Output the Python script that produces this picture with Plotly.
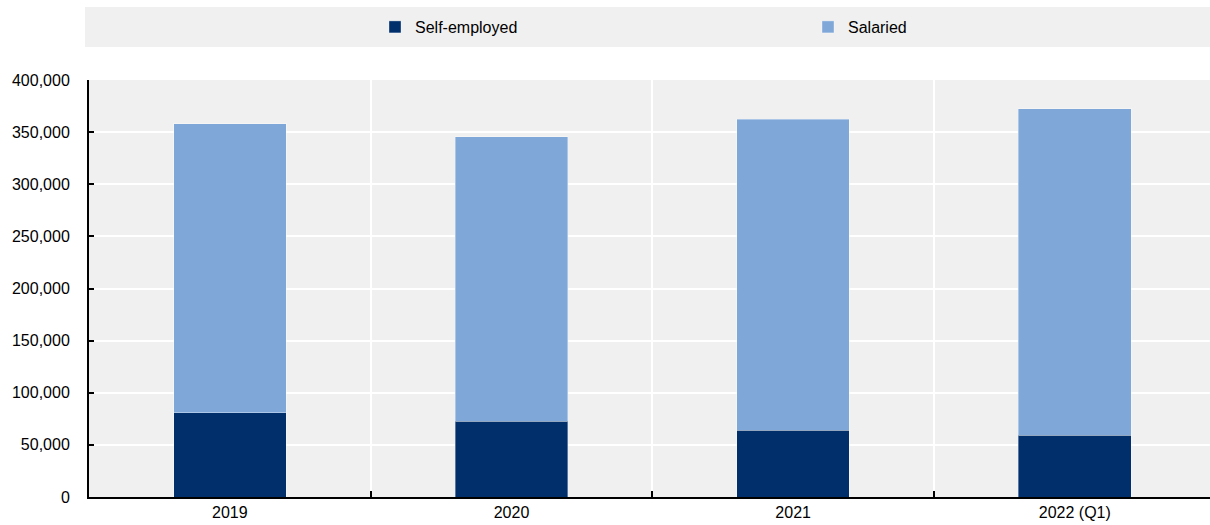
import plotly.graph_objects as go

categories = ["2019", "2020", "2021", "2022 (Q1)"]
self_employed = [80900, 72900, 64200, 59400]
salaried = [277100, 272700, 298000, 313000]
y_ticks = [0, 50000, 100000, 150000, 200000, 250000, 300000, 350000, 400000]
y_tick_labels = ["0", "50,000", "100,000", "150,000", "200,000", "250,000", "300,000", "350,000", "400,000"]

FONT = "Liberation Sans, Arial, sans-serif"
BG = "#f0f0f0"

fig = go.Figure()
fig.add_trace(go.Bar(x=categories, y=self_employed, name="Self-employed",
                     marker=dict(color="#002F6C", line=dict(color="rgba(255,255,255,0.35)", width=1)),
                     width=0.4))
fig.add_trace(go.Bar(x=categories, y=salaried, name="Salaried",
                     marker=dict(color="#7FA8D9", line=dict(color="rgba(255,255,255,0.35)", width=1)),
                     width=0.4))

W, H = 1210, 525
L, R, T, B = 89, 0, 80, 28
pw = W - L - R
ph = H - T - B

def px_x(x):
    return (x - L) / pw

def px_y(y):
    return (H - B - y) / ph

fig.update_layout(
    width=W, height=H,
    barmode="stack",
    margin=dict(l=L, r=R, t=T, b=B, pad=0, autoexpand=False),
    paper_bgcolor="white",
    plot_bgcolor=BG,
    font=dict(family=FONT, size=16, color="#000000"),
    showlegend=True,
    legend=dict(orientation="h", x=px_x(375), xanchor="left", y=px_y(27), yanchor="middle",
                bgcolor="rgba(0,0,0,0)", borderwidth=0, entrywidth=388, entrywidthmode="pixels",
                font=dict(family=FONT, size=16, color="#000000"), traceorder="normal"),
    shapes=[dict(type="rect", xref="paper", yref="paper", x0=px_x(85), x1=px_x(1210),
                 y0=px_y(47), y1=px_y(7), fillcolor=BG, line=dict(width=0), layer="below")],
    xaxis=dict(type="category", range=[-0.5, 3.48], tickson="boundaries", showgrid=True,
               gridcolor="white", gridwidth=2,
               ticks="inside", ticklen=6, tickcolor="black", tickwidth=2,
               showline=True, linecolor="black", linewidth=2, zeroline=False,
               tickfont=dict(family=FONT, size=16, color="#000000")),
    yaxis=dict(range=[0, 400000], tickvals=y_ticks, ticktext=y_tick_labels,
               showgrid=True, gridcolor="white", gridwidth=2, zeroline=False,
               ticks="inside", ticklen=5, tickcolor="black", tickwidth=2,
               showline=True, linecolor="black", linewidth=2, ticklabelstandoff=14,
               tickfont=dict(family=FONT, size=16, color="#000000")),
)

fig.write_html("out.html")
